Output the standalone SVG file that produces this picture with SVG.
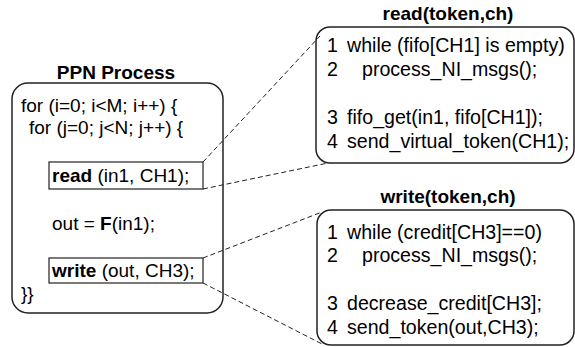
<svg xmlns="http://www.w3.org/2000/svg" width="575" height="347" viewBox="0 0 575 347">
<style>
text{font-family:"Liberation Sans",Arial,sans-serif;font-size:19px;fill:#000}
.r{font-size:19.6px}
.t{font-weight:bold}
.b{font-weight:bold}
.box{fill:#fff;stroke:#222;stroke-width:1.5}
.sb{fill:#fff;stroke:#222;stroke-width:1.2}
.d{stroke:#222;stroke-width:1;stroke-dasharray:5,3;fill:none}
</style>
<rect width="575" height="347" fill="#fff"/>
<g id="ppn">
<text class="t" x="116" y="79" text-anchor="middle">PPN Process</text>
<rect class="box" x="12" y="83" width="211" height="230" rx="16"/>
<text x="21" y="112">for (i=0; i&lt;M; i++) {</text>
<text x="29" y="134">for (j=0; j&lt;N; j++) {</text>
<rect class="sb" x="49" y="162" width="154" height="27"/>
<text x="52" y="182"><tspan class="b">read</tspan> (in1, CH1);</text>
<text x="52" y="230">out = <tspan class="b">F</tspan>(in1);</text>
<rect class="sb" x="49" y="258" width="154" height="25"/>
<text x="52" y="277"><tspan class="b">write</tspan> (out, CH3);</text>
<text x="21" y="300">}}</text>
</g>
<g id="read">
<text class="t" x="448" y="20" text-anchor="middle">read(token,ch)</text>
<rect class="box" x="316" y="27" width="258" height="136" rx="14"/>
<text class="r" x="327" y="52">1</text><text class="r" x="347" y="52">while (fifo[CH1] is empty)</text>
<text class="r" x="327" y="76">2</text><text class="r" x="362" y="76">process_NI_msgs();</text>
<text class="r" x="327" y="124">3</text><text class="r" x="347" y="124">fifo_get(in1, fifo[CH1]);</text>
<text class="r" x="327" y="148">4</text><text class="r" x="347" y="148">send_virtual_token(CH1);</text>
</g>
<g id="write">
<text class="t" x="448" y="203" text-anchor="middle">write(token,ch)</text>
<rect class="box" x="317" y="210" width="257" height="135" rx="14"/>
<text class="r" x="327" y="239">1</text><text class="r" x="347" y="239">while (credit[CH3]==0)</text>
<text class="r" x="327" y="262">2</text><text class="r" x="362" y="262">process_NI_msgs();</text>
<text class="r" x="327" y="310">3</text><text class="r" x="347" y="310">decrease_credit[CH3];</text>
<text class="r" x="327" y="334">4</text><text class="r" x="347" y="334">send_token(out,CH3);</text>
</g>
<g id="connectors">
<line class="d" x1="203" y1="162" x2="320" y2="36"/>
<line class="d" x1="203" y1="189" x2="328" y2="163"/>
<line class="d" x1="203" y1="258" x2="322" y2="212"/>
<line class="d" x1="203" y1="283" x2="322" y2="344"/>
</g>
</svg>
